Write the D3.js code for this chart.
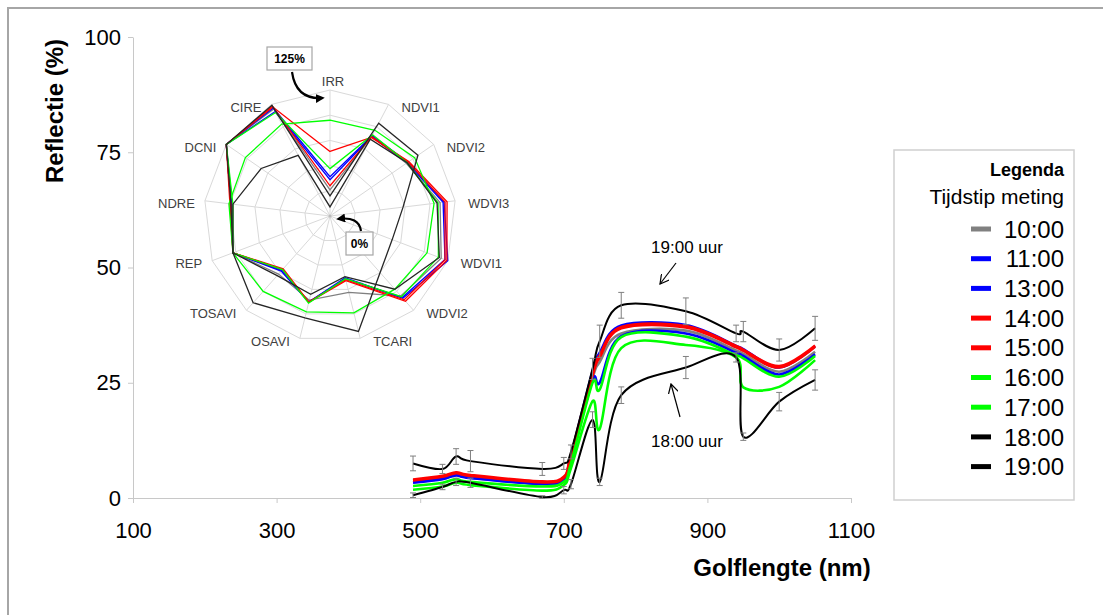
<!DOCTYPE html>
<html>
<head>
<meta charset="utf-8">
<script src="https://cdn.jsdelivr.net/npm/d3@7"></script>
<style>
  body { margin: 0; background: #fff; }
  svg { display: block; }
  text { font-family: "Liberation Sans", Arial, sans-serif; }
</style>
</head>
<body>
<svg id="chart" width="1103" height="615"></svg>
<script>
// ---- Spectral reflectance (%) per measuring time ----
const bands = [490, 531, 550, 570, 670, 700, 710, 740, 750, 780, 870, 940, 950, 1000, 1050];
const times = ["10:00", "11:00", "13:00", "14:00", "15:00", "16:00", "17:00", "18:00", "19:00"];
const refl1000 = [3.4, 4.2, 5.0, 4.4, 3.1, 4.1, 8.5, 26.0, 29.5, 35.7, 36.3, 32.0, 31.3, 27.4, 31.7];
const refl1100 = [3.8, 4.6, 5.4, 4.8, 3.4, 4.4, 9.2, 27.5, 31.5, 37.4, 37.5, 33.0, 32.3, 28.3, 32.9];
const refl1300 = [3.3, 4.1, 4.9, 4.3, 3.0, 4.0, 8.3, 25.5, 25.0, 35.1, 35.7, 31.5, 30.8, 26.8, 31.2];
const refl1400 = [4.0, 4.8, 5.6, 5.0, 3.6, 4.6, 9.4, 27.0, 31.0, 37.1, 37.3, 33.0, 32.2, 28.6, 33.1];
const refl1500 = [3.8, 4.6, 5.4, 4.8, 3.4, 4.4, 9.0, 26.5, 30.5, 36.8, 37.0, 32.7, 31.9, 28.3, 32.8];
const refl1600 = [1.8, 2.5, 3.3, 2.8, 1.6, 2.8, 6.5, 21.0, 15.0, 32.5, 33.2, 30.5, 24.0, 24.1, 29.9];
const refl1700 = [2.6, 3.3, 4.1, 3.5, 2.5, 3.5, 7.5, 25.0, 23.5, 34.9, 35.0, 31.0, 30.3, 26.3, 30.8];
const refl1800 = [0.6, 2.4, 3.5, 3.3, 0.2, 1.7, 3.0, 17.0, 3.5, 22.3, 28.3, 30.5, 13.3, 20.9, 25.6];
const refl1900 = [7.5, 6.3, 9.0, 8.0, 6.3, 7.5, 10.0, 28.0, 34.0, 41.8, 40.5, 35.7, 36.1, 32.1, 36.8];
// standard deviation shown as error bars
const sd1800 = [0.5, 0.6, 0.8, 1.0, 0.3, 0.8, 1.0, 1.7, 0.8, 1.8, 2.4, 1.0, 0.8, 2.0, 2.2];
const sd1900 = [1.6, 1.0, 1.7, 2.3, 1.4, 1.3, 1.5, 2.3, 3.5, 2.8, 2.9, 1.8, 2.2, 2.4, 2.6];

const xTicks = [100, 300, 500, 700, 900, 1100];
const yTicks = [0, 25, 50, 75, 100];

// ---- Vegetation indices relative to reference (%) ----
const indices = ["IRR", "NDVI1", "NDVI2", "WDVI3", "WDVI1", "WDVI2", "TCARI", "OSAVI", "TOSAVI", "REP", "NDRE", "DCNI", "CIRE"];
const idx1000 = [26, 89, 92, 110, 118, 106, 78, 86, 77, 103, 99, 125, 120];
const idx1100 = [39, 90, 94, 114, 125, 109, 63, 88, 73, 103, 99, 125, 121];
const idx1300 = [36, 89, 93, 113, 122, 108, 64, 88, 72, 103, 98, 125, 117];
const idx1400 = [64, 88, 95, 117, 124, 113, 66, 88, 70, 103, 100, 125, 122];
const idx1500 = [30, 89, 94, 115, 122, 111, 65, 88, 71, 103, 99, 125, 123];
const idx1600 = [95, 96, 102, 104, 103, 97, 99, 98, 100, 103, 101, 102, 103];
const idx1700 = [47, 91, 93, 108, 115, 107, 64, 89, 71, 103, 97, 125, 116];
const idx1800 = [9, 86, 93, 107, 116, 97, 62, 80, 79, 103, 97, 83, 68];
const idx1900 = [20, 104, 106, 73, 66, 75, 118, 104, 115, 103, 99, 125, 124];
const ringSteps = [25, 50, 75, 100, 125];

// ---- styling ----
const lineColor = ["#808080", "#0000ff", "#0000ff", "#ff0000", "#ff0000", "#00ff00", "#00ff00", "#000000", "#000000"];
const radarColor = ["#808080", "#0000ff", "#0000ff", "#ff0000", "#ff0000", "#00ff00", "#00ff00", "#262626", "#262626"];

const spectra = [refl1000, refl1100, refl1300, refl1400, refl1500, refl1600, refl1700, refl1800, refl1900];
const radarSeries = [idx1000, idx1100, idx1300, idx1400, idx1500, idx1600, idx1700, idx1800, idx1900];

const svg = d3.select("#chart");

// outer frame
svg.append("path").attr("d", "M8,615 L8,8 L1103,8")
  .attr("fill", "none").attr("stroke", "#a6a6a6").attr("stroke-width", 2);

const defs = svg.append("defs");
defs.append("marker").attr("id", "solidHead").attr("viewBox", "0 0 10 10")
  .attr("refX", 8).attr("refY", 5).attr("markerWidth", 9).attr("markerHeight", 9)
  .attr("markerUnits", "userSpaceOnUse").attr("orient", "auto")
  .append("path").attr("d", "M0,0 L10,5 L0,10 Z").attr("fill", "#000");
defs.append("marker").attr("id", "openHead").attr("viewBox", "0 0 10 10")
  .attr("refX", 9).attr("refY", 5).attr("markerWidth", 10).attr("markerHeight", 10)
  .attr("markerUnits", "userSpaceOnUse").attr("orient", "auto")
  .append("path").attr("d", "M0,0 L9,5 L0,10").attr("fill", "none").attr("stroke", "#000").attr("stroke-width", 1.2);

// ---- scales & axes ----
const x = d3.scaleLinear().domain([100, 1100]).range([133, 851]);
const y = d3.scaleLinear().domain([0, 100]).range([498, 37]);

const yAxis = svg.append("g").attr("transform", "translate(133,0)")
  .call(d3.axisLeft(y).tickValues(yTicks).tickFormat(d3.format("d"))
    .tickSize(5).tickSizeOuter(0).tickPadding(7));
const xAxis = svg.append("g").attr("transform", "translate(0,498)")
  .call(d3.axisBottom(x).tickValues(xTicks).tickFormat(d3.format("d"))
    .tickSize(5).tickSizeOuter(0).tickPadding(19));
[yAxis, xAxis].forEach(g => {
  g.select(".domain").attr("stroke", "#c8c8c8");
  g.selectAll(".tick line").attr("stroke", "#c8c8c8");
  g.selectAll(".tick text").attr("font-size", 22).attr("fill", "#000")
    .attr("font-family", "'Liberation Sans', Arial, sans-serif");
});

svg.append("text").attr("transform", "translate(63,111) rotate(-90)")
  .attr("text-anchor", "middle").attr("font-size", 24).attr("font-weight", "bold")
  .text("Reflectie (%)");
svg.append("text").attr("x", 782).attr("y", 576)
  .attr("text-anchor", "middle").attr("font-size", 24).attr("font-weight", "bold")
  .text("Golflengte (nm)");

// ---- spectral curves ----
const line = d3.line()
  .x(d => x(d[0])).y(d => y(d[1]))
  .curve(d3.curveCatmullRom.alpha(0));

const curves = svg.append("g");
spectra.forEach((vals, i) => {
  curves.append("path")
    .datum(bands.map((b, j) => [b, vals[j]]))
    .attr("fill", "none")
    .attr("stroke", lineColor[i])
    .attr("stroke-width", i >= 7 ? 2 : 2.6)
    .attr("d", line);
});

// error bars
function errorBars(vals, sds) {
  const g = svg.append("g").attr("stroke", "#7f7f7f").attr("stroke-width", 1);
  bands.forEach((b, j) => {
    const px = x(b), y0 = y(vals[j] - sds[j]), y1 = y(vals[j] + sds[j]);
    g.append("line").attr("x1", px).attr("x2", px).attr("y1", y0).attr("y2", y1);
    g.append("line").attr("x1", px - 3).attr("x2", px + 3).attr("y1", y0).attr("y2", y0);
    g.append("line").attr("x1", px - 3).attr("x2", px + 3).attr("y1", y1).attr("y2", y1);
  });
}
errorBars(refl1800, sd1800);
errorBars(refl1900, sd1900);

// annotations
svg.append("text").attr("x", 687).attr("y", 253).attr("text-anchor", "middle")
  .attr("font-size", 17).text("19:00 uur");
svg.append("line").attr("x1", 676).attr("y1", 263).attr("x2", 660).attr("y2", 284)
  .attr("stroke", "#000").attr("stroke-width", 1.2).attr("marker-end", "url(#openHead)");
svg.append("text").attr("x", 687).attr("y", 447).attr("text-anchor", "middle")
  .attr("font-size", 17).text("18:00 uur");
svg.append("line").attr("x1", 680).attr("y1", 417).attr("x2", 671).attr("y2", 384)
  .attr("stroke", "#000").attr("stroke-width", 1.2).attr("marker-end", "url(#openHead)");

// ---- radar of vegetation indices ----
const cx = 330, cy = 216, R = 126;
const r = d3.scaleLinear().domain([0, 125]).range([0, R]);
const n = indices.length;
const ang = i => i * 2 * Math.PI / n;
const radar = svg.append("g").attr("transform", `translate(${cx},${cy})`);

ringSteps.forEach(v => {
  radar.append("path")
    .attr("d", d3.lineRadial().angle((d, i) => ang(i)).radius(() => r(v)).curve(d3.curveLinearClosed)(indices))
    .attr("fill", "none").attr("stroke", "#d9d9d9").attr("stroke-width", 1);
});
indices.forEach((name, i) => {
  const a = ang(i);
  radar.append("line").attr("x1", 0).attr("y1", 0)
    .attr("x2", r(125) * Math.sin(a)).attr("y2", -r(125) * Math.cos(a))
    .attr("stroke", "#d9d9d9").attr("stroke-width", 1);
  const vx = r(125) * Math.sin(a), vy = -r(125) * Math.cos(a);
  const s = Math.sin(a);
  let tx, ty, anchor;
  if (Math.abs(s) < 0.01) { tx = vx + 3; ty = vy - 9; anchor = "middle"; }
  else if (s > 0) { tx = vx + 13; ty = vy + 3; anchor = "start"; }
  else { tx = vx - 10; ty = vy + 3; anchor = "end"; }
  radar.append("text").attr("x", tx).attr("y", ty).attr("dy", "0.35em")
    .attr("text-anchor", anchor).attr("font-size", 13).attr("fill", "#404040").text(name);
});
radar.append("circle").attr("r", 1.5).attr("fill", "#bbb");

const radial = d3.lineRadial().angle((d, i) => ang(i)).radius(d => r(d)).curve(d3.curveLinearClosed);
radarSeries.forEach((vals, i) => {
  radar.append("path").attr("d", radial(vals))
    .attr("fill", "none").attr("stroke", radarColor[i]).attr("stroke-width", 1.3)
    .attr("stroke-linejoin", "miter");
});

// scale callouts
function callout(bx, by, bw, bh, label) {
  svg.append("rect").attr("x", bx).attr("y", by).attr("width", bw).attr("height", bh)
    .attr("fill", "#fff").attr("stroke", "#a6a6a6").attr("stroke-width", 1.2);
  svg.append("text").attr("x", bx + bw / 2).attr("y", by + bh / 2).attr("dy", "0.36em")
    .attr("text-anchor", "middle").attr("font-size", 12).attr("font-weight", "bold").text(label);
}
callout(267, 47, 45, 23, "125%");
svg.append("path").attr("d", "M292,72 Q296,100 323,98")
  .attr("fill", "none").attr("stroke", "#000").attr("stroke-width", 2.2).attr("marker-end", "url(#solidHead)");
callout(346, 232, 27, 23, "0%");
svg.append("path").attr("d", "M361,231 Q359,216 338,219")
  .attr("fill", "none").attr("stroke", "#000").attr("stroke-width", 2.2).attr("marker-end", "url(#solidHead)");

// ---- legend ----
const lg = svg.append("g");
lg.append("rect").attr("x", 894).attr("y", 150).attr("width", 180).attr("height", 350)
  .attr("fill", "#fff").attr("stroke", "#d0d0d0").attr("stroke-width", 1.5);
lg.append("text").attr("x", 1064).attr("y", 176).attr("text-anchor", "end")
  .attr("font-size", 18).attr("font-weight", "bold").text("Legenda");
lg.append("text").attr("x", 1064).attr("y", 204).attr("text-anchor", "end")
  .attr("font-size", 21).text("Tijdstip meting");
times.forEach((t, i) => {
  const ly = 229 + i * 29.7;
  lg.append("line").attr("x1", 971).attr("x2", 991).attr("y1", ly).attr("y2", ly)
    .attr("stroke", lineColor[i]).attr("stroke-width", 5);
  lg.append("text").attr("x", 1064).attr("y", ly).attr("dy", "0.36em").attr("text-anchor", "end")
    .attr("font-size", 24).text(t);
});
</script>
</body>
</html>
